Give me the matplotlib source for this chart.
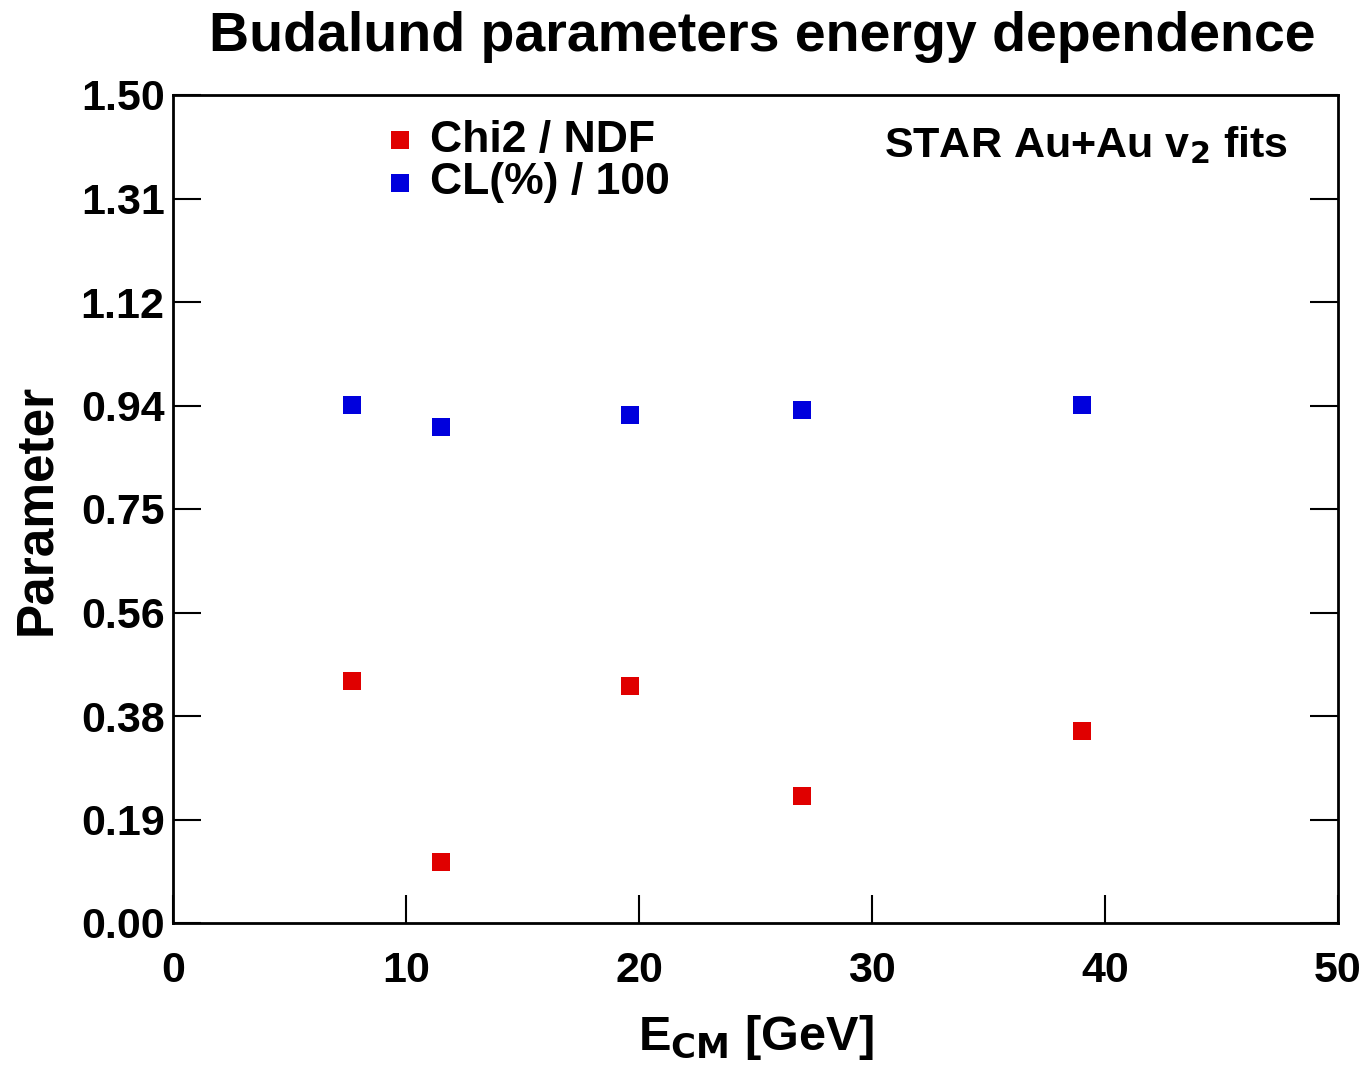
import matplotlib
matplotlib.use("Agg")
import matplotlib.pyplot as plt

# ── Data ─────────────────────────────────────────────────────────────────────
energy = [7.7, 11.5, 19.6, 27.0, 39.0]
chi2_ndf = [0.438, 0.110, 0.429, 0.230, 0.348]
cl_frac = [0.938, 0.899, 0.920, 0.929, 0.938]

yticks = [0.0, 0.1875, 0.375, 0.5625, 0.75, 0.9375, 1.125, 1.3125, 1.5]
ytick_labels = ["0.00", "0.19", "0.38", "0.56", "0.75", "0.94", "1.12", "1.31", "1.50"]
xticks = [0, 10, 20, 30, 40, 50]

RED = "#e00000"
BLUE = "#0000dd"
MS = 160

plt.rcParams.update({
    "font.family": ["Liberation Sans", "DejaVu Sans"],
    "font.weight": "bold",
})

fig = plt.figure(figsize=(13.66, 10.83), dpi=100)
ax = fig.add_axes([173 / 1366, 1 - 923 / 1083, 1165 / 1366, 828 / 1083])

ax.scatter(energy, chi2_ndf, marker="s", s=MS, color=RED, lw=0, zorder=3)
ax.scatter(energy, cl_frac, marker="s", s=MS, color=BLUE, lw=0, zorder=3)

ax.set_xlim(0, 50)
ax.set_ylim(0, 1.5)
ax.set_xticks(xticks)
ax.set_yticks(yticks)
ax.set_yticklabels(ytick_labels)
ax.tick_params(axis="both", direction="in", length=20, width=1.5, labelsize=31)
ax.tick_params(axis="y", right=True, pad=6)
ax.tick_params(axis="x", pad=20)
for sp in ax.spines.values():
    sp.set_linewidth(2)

ax.set_xlabel("E$_{\\mathbf{CM}}$ [GeV]", fontsize=35, fontweight="bold", labelpad=16)
ax.set_ylabel("Parameter", fontsize=37, fontweight="bold", labelpad=14)
fig.text(0.558, 0.966, "Budalund parameters energy dependence", ha="center", va="center",
         fontsize=40, fontweight="bold")

# legend drawn by hand inside the frame
ax.scatter([9.74], [1.418], marker="s", s=MS, color=RED, lw=0)
ax.scatter([9.74], [1.341], marker="s", s=MS, color=BLUE, lw=0)
ax.text(11.05, 1.418, "Chi2 / NDF", fontsize=32, va="center", ha="left", fontweight="bold")
ax.text(11.05, 1.341, "CL(%) / 100", fontsize=32, va="center", ha="left", fontweight="bold")
ax.text(47.85, 1.409, "STAR Au+Au v$_\\mathbf{2}$ fits", fontsize=31, va="center", ha="right",
        fontweight="bold")

fig.savefig("out.png", dpi=100)
